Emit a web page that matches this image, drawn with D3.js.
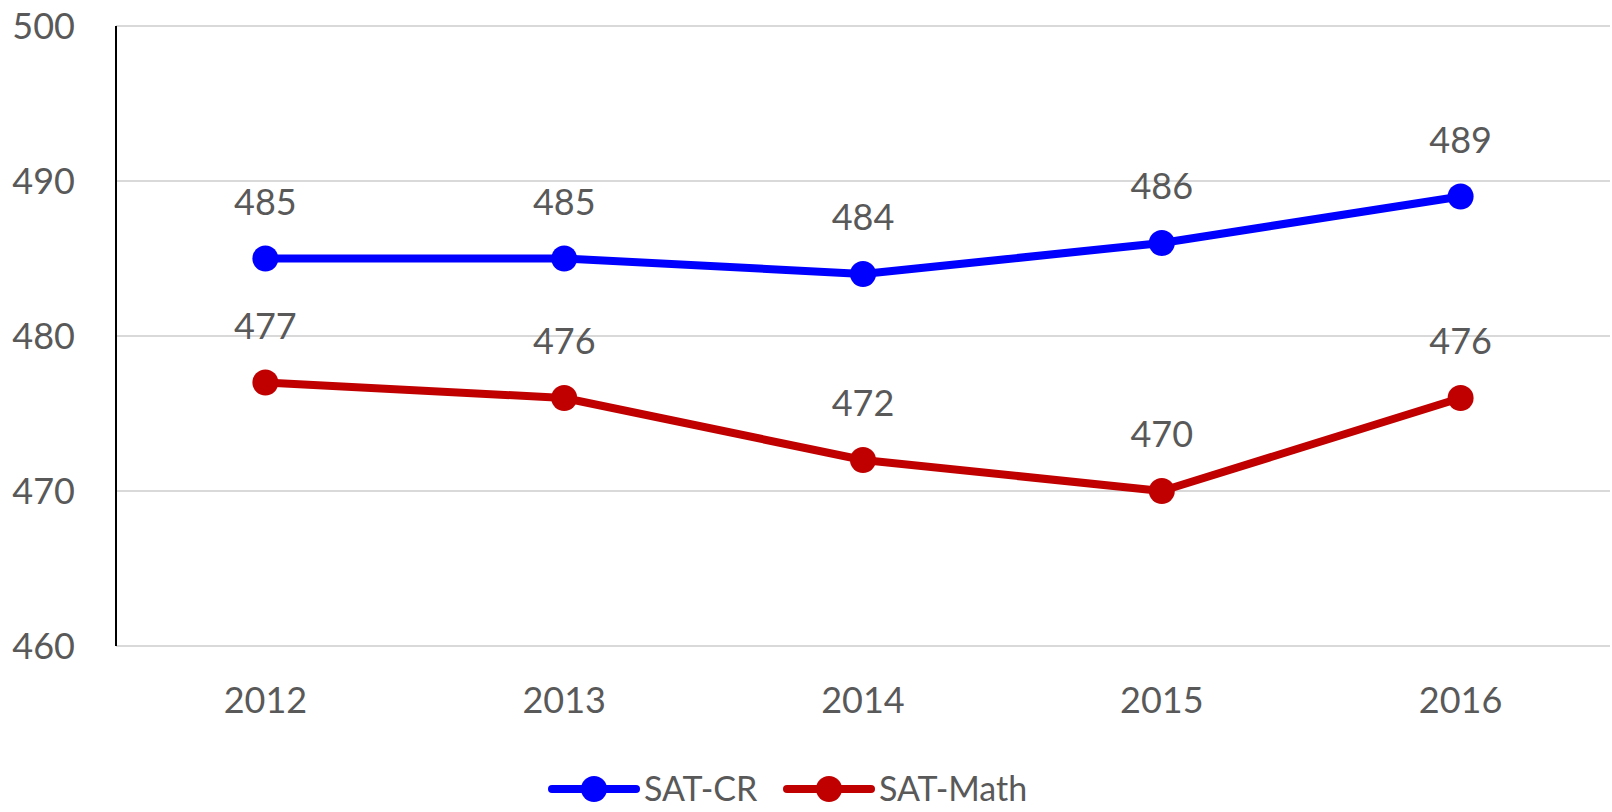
<!DOCTYPE html>
<html>
<head>
<meta charset="utf-8">
<script src="https://cdn.jsdelivr.net/npm/d3@7"></script>
<style>
  body { margin: 0; background: #fff; }
  svg text { font-family: Lato, "Open Sans", sans-serif; fill: #595959; }
</style>
</head>
<body>
<div class="graph"></div>
<script>
// data
var years = ["2012", "2013", "2014", "2015", "2016"];
var satCR = [485, 485, 484, 486, 489];
var satMath = [477, 476, 472, 470, 476];
var yTicks = [460, 470, 480, 490, 500];
var seriesNames = ["SAT-CR", "SAT-Math"];
var seriesColors = ["#0000ff", "#c00000"];

var width = 1612, height = 812;
var margin = {top: 26, right: 2, bottom: 166, left: 116};

var svg = d3.select("div.graph").append("svg")
    .attr("width", width)
    .attr("height", height);

var x = d3.scalePoint().domain(years)
    .range([margin.left, width - margin.right]).padding(0.5);
var y = d3.scaleLinear().domain([460, 500])
    .range([height - margin.bottom, margin.top]);

// gridlines
svg.append("g").selectAll("line")
  .data(yTicks)
  .enter().append("line")
    .attr("x1", margin.left).attr("x2", width - margin.right)
    .attr("y1", function(d) { return y(d); })
    .attr("y2", function(d) { return y(d); })
    .attr("stroke", "#d9d9d9").attr("stroke-width", 2);

// y axis line + labels
svg.append("line")
    .attr("x1", margin.left).attr("x2", margin.left)
    .attr("y1", y(500)).attr("y2", y(460))
    .attr("stroke", "#000").attr("stroke-width", 2);

svg.append("g").selectAll("text")
  .data(yTicks)
  .enter().append("text")
    .attr("x", 75)
    .attr("y", function(d) { return y(d) + 13; })
    .attr("text-anchor", "end")
    .style("font-size", "36px")
    .text(function(d) { return d; });

// x labels
svg.append("g").selectAll("text")
  .data(years)
  .enter().append("text")
    .attr("x", function(d) { return x(d); })
    .attr("y", 713)
    .attr("text-anchor", "middle")
    .style("font-size", "36px")
    .text(function(d) { return d; });

var series = [satCR, satMath];
var line = d3.line()
    .x(function(d, i) { return x(years[i]); })
    .y(function(d) { return y(d); });

series.forEach(function(vals, s) {
  var g = svg.append("g");
  g.append("path")
      .datum(vals)
      .attr("d", line)
      .attr("fill", "none")
      .attr("stroke", seriesColors[s])
      .attr("stroke-width", 8)
      .attr("stroke-linejoin", "round");
  g.selectAll("circle")
    .data(vals)
    .enter().append("circle")
      .attr("cx", function(d, i) { return x(years[i]); })
      .attr("cy", function(d) { return y(d); })
      .attr("r", 13)
      .attr("fill", seriesColors[s]);
  g.selectAll("text")
    .data(vals)
    .enter().append("text")
      .attr("x", function(d, i) { return x(years[i]); })
      .attr("y", function(d) { return y(d) - 44; })
      .attr("text-anchor", "middle")
      .style("font-size", "36px")
      .text(function(d) { return d; });
});

// legend
var legendX = [552, 787];
seriesNames.forEach(function(name, s) {
  var lg = svg.append("g").attr("transform", "translate(" + legendX[s] + ",789)");
  lg.append("line")
      .attr("x1", 0).attr("x2", 84)
      .attr("stroke", seriesColors[s]).attr("stroke-width", 8)
      .attr("stroke-linecap", "round");
  lg.append("circle").attr("cx", 42).attr("r", 13).attr("fill", seriesColors[s]);
  lg.append("text")
      .attr("x", 92).attr("y", 12)
      .style("font-size", "34px")
      .text(name);
});
</script>
</body>
</html>
